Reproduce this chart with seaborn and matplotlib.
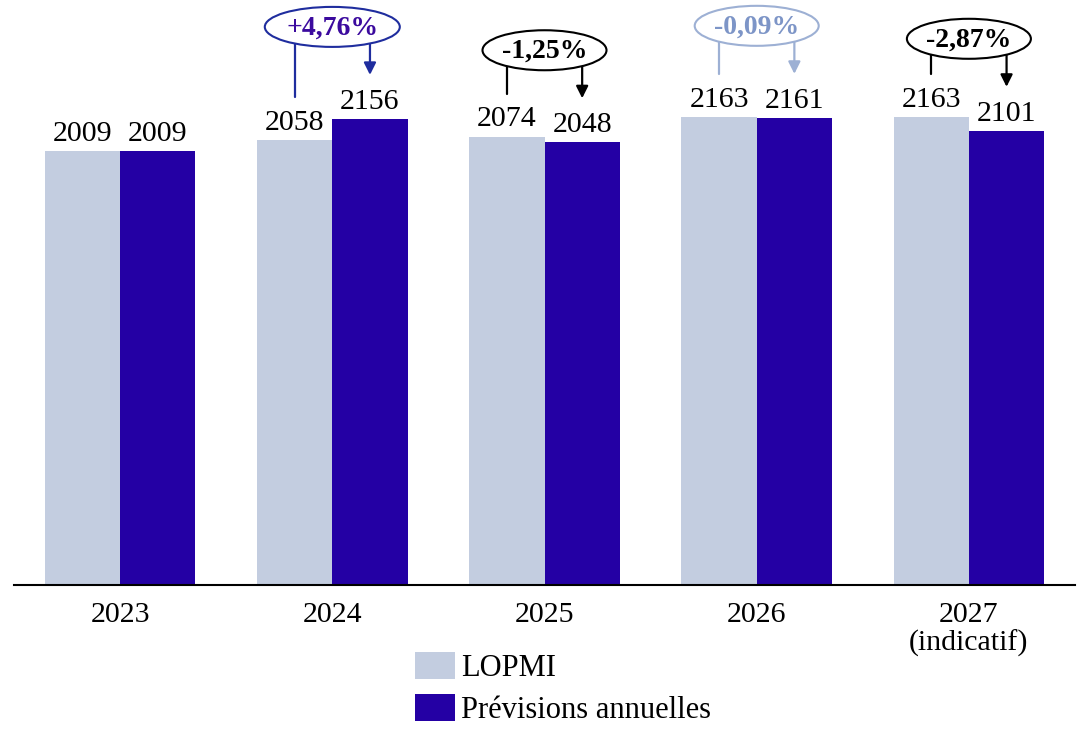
import numpy as np
import pandas as pd
import matplotlib.pyplot as plt
import seaborn as sb
from matplotlib.patches import Ellipse, Patch

# data
annees = ['2023', '2024', '2025', '2026', '2027']
tick_labels = ['2023', '2024', '2025', '2026', '2027\n(indicatif)']
lopmi = [2009, 2058, 2074, 2163, 2163]
previsions = [2009, 2156, 2048, 2161, 2101]
ecarts = [None, '+4,76%', '-1,25%', '-0,09%', '-2,87%']

series = ['LOPMI', 'Prévisions annuelles']
palette = {'LOPMI': '#C3CDE0', 'Prévisions annuelles': '#2400A4'}
# (edge colour, text colour) for each ellipse
ann_styles = [None, ('#1F2D9E', '#3B0A9E'), ('black', 'black'),
              ('#9DB0D4', '#7D95C7'), ('black', 'black')]

df = pd.DataFrame({
    'annee': annees * 2,
    'serie': [series[0]] * len(annees) + [series[1]] * len(annees),
    'valeur': lopmi + previsions,
})

sb.set_style('white')
plt.rcParams['font.family'] = ['Liberation Serif', 'DejaVu Serif']
plt.rcParams['text.color'] = 'black'
plt.rcParams['xtick.color'] = 'black'

fig = plt.figure(figsize=(10.88, 7.47), dpi=100)
ax = fig.add_axes([14 / 1088, 162 / 747, 1061 / 1088, 585 / 747])

sb.barplot(data=df, x='annee', y='valeur', hue='serie', order=annees,
           hue_order=series, palette=palette, width=0.71, saturation=1,
           errorbar=None, legend=False, linewidth=0, edgecolor='none', ax=ax)

ymax = 2706
px = ymax / 585          # data units per pixel
ax.set_ylim(0, ymax)
ax.set_xlim(-0.5, 4.5)

for c in ax.containers:
    ax.bar_label(c, fmt='%d', padding=3, fontsize=21.5, color='black')

dx = 0.71 / 4
for i, txt in enumerate(ecarts):
    if txt is None:
        continue
    edge, tcol = ann_styles[i]
    xl, xr = i - dx, i + dx
    top_l = lopmi[i] + 31 * px
    top_r = previsions[i] + 31 * px
    tip = top_r + 13 * px
    cy = tip + 48 * px
    w = (135 if txt.startswith('+') else 124) / 212.2
    ax.add_patch(Ellipse((i, cy), w, 40 * px, facecolor='white', edgecolor=edge,
                         lw=1.5, zorder=6, clip_on=False))
    ax.plot([xl, xl], [top_l + 12 * px, cy], color=edge, lw=1.6, zorder=5,
            clip_on=False)
    a = ax.annotate('', xy=(xr, tip), xytext=(xr, cy),
                    arrowprops=dict(arrowstyle='-|>', color=edge, lw=1.6,
                                    mutation_scale=18, shrinkA=0, shrinkB=0))
    a.set_zorder(5)
    ax.text(i, cy - 1 * px, txt, ha='center', va='center', fontsize=20,
            fontweight='bold', color=tcol, zorder=7)

ax.set_xticks(range(len(annees)))
ax.set_xticklabels(tick_labels, fontsize=21.5)
for lbl in ax.get_xticklabels():
    lbl.set_linespacing(1.12)
ax.tick_params(axis='x', length=0, pad=12)
ax.set_yticks([])
ax.set_xlabel('')
ax.set_ylabel('')
for s in ['top', 'left', 'right']:
    ax.spines[s].set_visible(False)
ax.spines['bottom'].set_color('black')
ax.spines['bottom'].set_linewidth(1.5)

handles = [Patch(facecolor=palette[s], edgecolor='none') for s in series]
fig.legend(handles, series, loc='upper left',
           bbox_to_anchor=(415 / 1088, 1 - 652 / 747), frameon=False,
           fontsize=22, handlelength=1.3, handleheight=0.98,
           labelspacing=0.36, handletextpad=0.22, borderpad=0,
           borderaxespad=0)

fig.savefig('out.png', dpi=100)
